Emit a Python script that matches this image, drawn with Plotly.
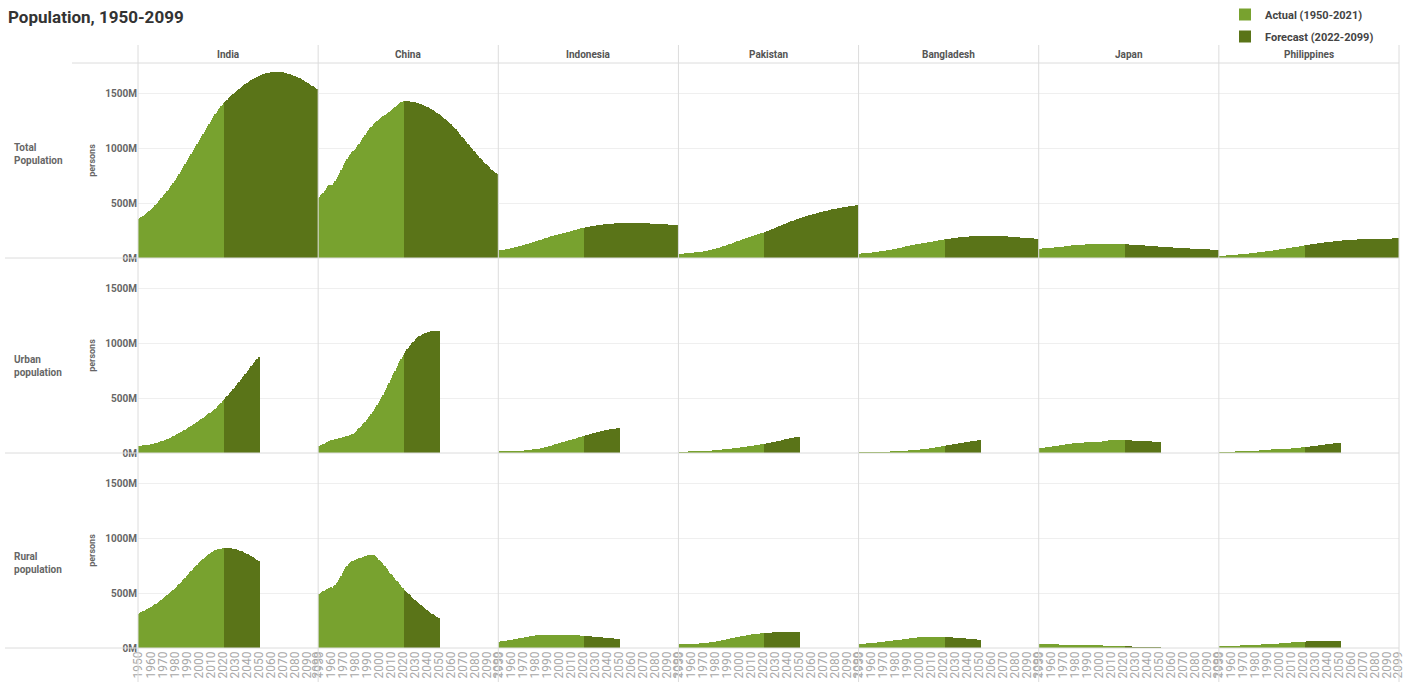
import plotly.graph_objects as go
from plotly.subplots import make_subplots

# ---------------------------------------------------------------- data (millions of persons)
countries = ["India", "China", "Indonesia", "Pakistan", "Bangladesh", "Japan", "Philippines"]
row_labels = ["Total<br>Population", "Urban<br>population", "Rural<br>population"]
years_total = list(range(1950, 2100))   # total population: 1950-2099
years_split = list(range(1950, 2051))   # urban / rural: 1950-2050
forecast_start = 2022
x_tick_years = [1950, 1960, 1970, 1980, 1990, 2000, 2010, 2020, 2030, 2040,
                2050, 2060, 2070, 2080, 2090, 2099]
y_tick_values = [0, 500, 1000, 1500]

india_total = [
    357, 363, 370, 377, 384, 392, 400, 408, 417, 426,
    436, 446, 457, 468, 479, 491, 503, 515, 528, 542,
    557, 569, 582, 595, 609, 623, 637, 652, 667, 682,
    697, 714, 731, 748, 765, 782, 799, 817, 835, 852,
    870, 889, 908, 927, 946, 964, 983, 1002, 1021, 1040,
    1059, 1077, 1095, 1113, 1131, 1149, 1167, 1185, 1203, 1222,
    1240, 1257, 1274, 1291, 1307, 1322, 1338, 1354, 1369, 1383, 1396, 1408,
    1417, 1429, 1441, 1452, 1463, 1474, 1484, 1495,
    1505, 1514, 1523, 1532, 1541, 1550, 1558, 1566, 1574, 1582,
    1590, 1597, 1604, 1611, 1618, 1625, 1631, 1637, 1643, 1649,
    1655, 1660, 1665, 1669, 1673, 1677, 1680, 1683, 1686, 1688,
    1690, 1692, 1693, 1694, 1695, 1695, 1695, 1694, 1693, 1692,
    1690, 1688, 1685, 1682, 1679, 1676, 1672, 1668, 1664, 1660,
    1655, 1650, 1645, 1640, 1634, 1628, 1622, 1616, 1610, 1604,
    1597, 1591, 1584, 1577, 1570, 1563, 1556, 1549, 1542, 1535,
]
china_total = [
    544, 557, 570, 583, 596, 609, 622, 636, 651, 664,
    667, 660, 666, 682, 699, 716, 735, 755, 776, 797,
    822, 845, 866, 887, 905, 922, 937, 950, 963, 975,
    982, 996, 1011, 1026, 1041, 1056, 1072, 1089, 1106, 1123,
    1140, 1155, 1168, 1181, 1193, 1205, 1216, 1227, 1237, 1247,
    1257, 1266, 1275, 1283, 1291, 1299, 1306, 1313, 1320, 1327,
    1337, 1346, 1355, 1364, 1373, 1382, 1391, 1400, 1408, 1416, 1424, 1426,
    1427, 1427, 1426, 1425, 1424, 1423, 1421, 1419,
    1417, 1414, 1411, 1408, 1404, 1400, 1396, 1391, 1386, 1381,
    1376, 1370, 1364, 1358, 1352, 1345, 1338, 1331, 1324, 1316,
    1308, 1300, 1292, 1283, 1274, 1265, 1256, 1247, 1238, 1228,
    1218, 1206, 1194, 1182, 1170, 1157, 1144, 1131, 1118, 1105,
    1092, 1079, 1066, 1053, 1040, 1027, 1014, 1001, 988, 975,
    962, 950, 938, 926, 914, 902, 890, 878, 867, 856,
    845, 834, 824, 814, 804, 795, 786, 778, 770, 763,
]
indonesia_total = [
    70, 71, 73, 74, 76, 77, 79, 81, 83, 86,
    88, 90, 93, 95, 98, 100, 103, 106, 109, 112,
    115, 118, 121, 124, 128, 131, 134, 138, 141, 145,
    148, 151, 155, 158, 162, 165, 168, 172, 175, 179,
    182, 185, 189, 192, 196, 199, 202, 205, 208, 211,
    214, 217, 220, 223, 226, 229, 232, 235, 238, 241,
    244, 247, 250, 253, 256, 259, 262, 264, 267, 269, 272, 274,
    276, 278, 281, 283, 285, 287, 289, 290,
    292, 294, 296, 297, 299, 300, 302, 303, 305, 306,
    308, 309, 310, 311, 312, 313, 314, 315, 316, 316,
    317, 317, 318, 318, 319, 319, 319, 320, 320, 320,
    320, 320, 320, 319, 319, 319, 319, 318, 318, 317,
    317, 317, 316, 316, 315, 315, 314, 314, 313, 312,
    312, 311, 311, 310, 309, 309, 308, 307, 307, 306,
    305, 304, 304, 303, 302, 301, 300, 299, 298, 297,
]
pakistan_total = [
    38, 38, 39, 40, 41, 42, 42, 43, 44, 45,
    46, 47, 48, 49, 51, 52, 53, 55, 56, 58,
    59, 62, 64, 66, 68, 70, 72, 74, 77, 79,
    81, 84, 87, 91, 94, 98, 101, 105, 108, 112,
    115, 119, 123, 127, 131, 135, 139, 143, 147, 151,
    154, 158, 162, 166, 170, 174, 178, 182, 186, 190,
    194, 198, 201, 204, 208, 211, 214, 217, 220, 224, 227, 231,
    235, 240, 244, 249, 253, 258, 262, 267,
    271, 276, 280, 285, 289, 294, 298, 303, 307, 312,
    316, 320, 325, 329, 333, 337, 341, 345, 349, 353,
    357, 361, 364, 368, 371, 375, 378, 381, 385, 388,
    391, 395, 398, 401, 404, 407, 410, 413, 416, 419,
    422, 425, 427, 430, 432, 435, 437, 440, 442, 444,
    446, 448, 450, 452, 454, 456, 458, 460, 462, 464,
    466, 468, 469, 471, 472, 474, 475, 477, 478, 480,
]
bangladesh_total = [
    40, 41, 42, 43, 44, 45, 46, 47, 48, 49,
    50, 51, 53, 54, 56, 57, 59, 60, 62, 63,
    64, 66, 67, 69, 71, 73, 75, 77, 79, 81,
    84, 86, 88, 91, 93, 95, 98, 100, 102, 105,
    107, 109, 112, 114, 116, 118, 120, 123, 125, 127,
    129, 131, 133, 135, 137, 139, 141, 143, 145, 146,
    148, 150, 152, 154, 156, 158, 160, 161, 163, 165, 167, 169,
    171, 173, 174, 176, 177, 179, 180, 182,
    183, 184, 186, 187, 188, 189, 190, 191, 192, 193,
    194, 195, 196, 197, 198, 198, 199, 200, 200, 201,
    201, 202, 202, 202, 203, 203, 203, 203, 203, 203,
    203, 202, 202, 202, 201, 201, 200, 200, 199, 198,
    198, 197, 196, 196, 195, 194, 193, 192, 192, 191,
    190, 189, 188, 187, 186, 186, 185, 184, 183, 182,
    181, 181, 180, 179, 178, 177, 177, 176, 175, 175,
]
japan_total = [
    84, 85, 86, 87, 88, 89, 90, 91, 92, 92,
    93, 94, 95, 96, 97, 98, 99, 100, 101, 103,
    104, 105, 107, 109, 110, 112, 113, 114, 115, 116,
    117, 118, 118, 119, 120, 121, 121, 122, 122, 123,
    124, 124, 124, 125, 125, 125, 126, 126, 126, 126,
    127, 127, 127, 127, 128, 128, 128, 128, 128, 128,
    128, 128, 128, 127, 127, 127, 127, 127, 126, 126, 125, 125,
    124, 123, 123, 122, 122, 121, 120, 120,
    119, 118, 118, 117, 116, 116, 115, 114, 113, 113,
    112, 111, 110, 109, 109, 108, 107, 106, 105, 104,
    104, 103, 102, 101, 100, 100, 99, 98, 97, 96,
    96, 95, 94, 94, 93, 92, 92, 91, 90, 90,
    89, 88, 88, 87, 87, 86, 85, 85, 84, 84,
    83, 83, 82, 82, 81, 81, 80, 80, 79, 79,
    78, 78, 77, 77, 76, 76, 75, 75, 74, 74,
]
philippines_total = [
    19, 19, 20, 21, 22, 22, 23, 24, 25, 25,
    26, 27, 28, 29, 30, 31, 32, 33, 34, 35,
    36, 37, 38, 39, 40, 42, 43, 44, 45, 47,
    48, 50, 51, 52, 54, 55, 56, 58, 59, 61,
    62, 64, 65, 67, 68, 70, 71, 73, 75, 76,
    78, 80, 81, 83, 84, 86, 87, 89, 91, 92,
    94, 96, 97, 99, 100, 102, 104, 106, 107, 109, 112, 114,
    116, 118, 119, 121, 123, 125, 127, 128,
    130, 132, 133, 135, 136, 138, 139, 141, 142, 144,
    145, 146, 148, 149, 150, 151, 153, 154, 155, 156,
    157, 158, 159, 160, 161, 162, 163, 163, 164, 165,
    166, 166, 167, 168, 168, 169, 169, 170, 170, 171,
    171, 172, 172, 172, 173, 173, 173, 174, 174, 174,
    175, 175, 175, 175, 176, 176, 176, 176, 176, 177,
    177, 177, 177, 177, 178, 178, 178, 178, 178, 178,
]

india_urban = [
    62, 64, 66, 67, 69, 71, 72, 74, 76, 77,
    79, 81, 84, 86, 89, 92, 95, 98, 102, 105,
    109, 113, 117, 121, 125, 130, 135, 141, 147, 153,
    159, 165, 171, 176, 182, 188, 194, 200, 207, 213,
    220, 227, 233, 240, 247, 254, 261, 268, 275, 283,
    290, 297, 305, 313, 320, 328, 336, 344, 352, 360,
    368, 377, 386, 395, 404, 414, 424, 435, 446, 458, 470, 482,
    494, 506, 518, 530, 542, 555, 568, 581,
    594, 607, 620, 634, 647, 661, 675, 688, 702, 716,
    731, 746, 760, 775, 789, 803, 817, 831, 845, 859,
    873,
]
china_urban = [
    62, 66, 71, 76, 81, 86, 92, 98, 104, 110,
    115, 118, 120, 122, 125, 128, 131, 134, 137, 140,
    143, 146, 149, 152, 155, 158, 162, 166, 171, 177,
    184, 194, 204, 214, 225, 236, 248, 260, 272, 285,
    298, 312, 326, 340, 355, 370, 386, 402, 418, 434,
    452, 472, 492, 512, 532, 553, 574, 596, 618, 640,
    662, 684, 706, 728, 750, 772, 794, 816, 838, 858, 877, 895,
    912, 928, 944, 959, 973, 987, 1000, 1012,
    1023, 1034, 1044, 1053, 1061, 1068, 1075, 1081, 1086, 1091,
    1095, 1099, 1102, 1105, 1107, 1109, 1111, 1112, 1113, 1114,
    1115,
]
indonesia_urban = [
    9, 10, 10, 11, 11, 12, 12, 13, 13, 14,
    14, 15, 15, 16, 17, 17, 18, 19, 20, 21,
    21, 22, 24, 25, 26, 27, 28, 29, 31, 32,
    33, 35, 37, 39, 41, 43, 45, 47, 50, 52,
    55, 58, 62, 65, 68, 72, 75, 79, 82, 86,
    89, 92, 95, 98, 101, 104, 107, 110, 113, 116,
    119, 122, 125, 128, 132, 135, 139, 142, 146, 149, 153, 156,
    159, 162, 165, 168, 171, 174, 177, 180,
    183, 186, 189, 192, 194, 197, 199, 202, 204, 206,
    208, 210, 212, 214, 216, 217, 219, 221, 222, 224,
    225,
]
pakistan_urban = [
    6, 7, 7, 7, 8, 8, 8, 9, 9, 10,
    10, 11, 11, 12, 12, 13, 13, 14, 14, 15,
    16, 16, 17, 18, 18, 19, 20, 21, 22, 23,
    24, 25, 26, 27, 28, 29, 30, 32, 33, 34,
    35, 37, 38, 39, 41, 42, 43, 45, 46, 48,
    49, 50, 52, 53, 55, 56, 57, 59, 60, 62,
    63, 65, 66, 68, 70, 71, 73, 75, 77, 78, 80, 82,
    84, 86, 88, 90, 92, 94, 96, 98,
    101, 103, 105, 108, 110, 113, 115, 118, 120, 123,
    125, 128, 130, 133, 135, 138, 140, 143, 145, 147,
    150,
]
bangladesh_urban = [
    2, 2, 2, 2, 2, 2, 2, 2, 2, 2,
    3, 3, 3, 3, 3, 4, 4, 4, 4, 5,
    5, 6, 7, 7, 8, 9, 10, 11, 11, 12,
    13, 14, 15, 15, 16, 17, 18, 19, 20, 21,
    22, 23, 24, 25, 25, 26, 27, 28, 29, 30,
    31, 32, 33, 35, 36, 37, 39, 40, 41, 43,
    44, 46, 47, 49, 51, 53, 55, 57, 59, 61, 63, 65,
    67, 69, 71, 73, 74, 76, 78, 80,
    82, 84, 86, 88, 90, 91, 93, 95, 97, 99,
    100, 102, 104, 105, 107, 108, 110, 111, 113, 114,
    115,
]
japan_urban = [
    44, 45, 47, 48, 50, 51, 53, 54, 56, 57,
    59, 60, 62, 63, 65, 66, 68, 70, 71, 73,
    75, 76, 78, 80, 81, 82, 84, 85, 87, 88,
    90, 90, 91, 92, 93, 93, 94, 95, 96, 96,
    97, 97, 98, 98, 98, 98, 99, 99, 99, 100,
    100, 102, 104, 106, 108, 110, 112, 113, 114, 115,
    116, 116, 117, 117, 117, 117, 117, 116, 116, 116, 116, 115,
    115, 115, 114, 114, 114, 113, 113, 112,
    112, 111, 111, 110, 110, 109, 109, 108, 108, 107,
    107, 106, 106, 105, 104, 104, 103, 103, 102, 101,
    101,
]
philippines_urban = [
    6, 6, 6, 7, 7, 7, 7, 8, 8, 8,
    8, 9, 9, 9, 10, 10, 10, 11, 11, 11,
    12, 12, 13, 13, 14, 15, 15, 16, 17, 17,
    18, 19, 20, 21, 23, 24, 25, 26, 27, 28,
    30, 30, 31, 31, 32, 33, 33, 34, 34, 35,
    36, 36, 37, 37, 38, 39, 39, 40, 41, 41,
    42, 43, 44, 45, 46, 47, 48, 49, 50, 51, 52, 53,
    55, 56, 57, 58, 60, 61, 62, 64,
    65, 66, 68, 69, 71, 72, 74, 75, 77, 78,
    80, 81, 83, 84, 86, 87, 89, 90, 92, 93,
    95,
]

india_rural = [
    314, 319, 324, 330, 335, 341, 347, 352, 358, 364,
    370, 376, 383, 390, 397, 404, 412, 420, 429, 437,
    446, 454, 463, 472, 481, 490, 499, 509, 518, 528,
    537, 548, 559, 571, 582, 594, 605, 617, 629, 641,
    653, 665, 677, 689, 701, 713, 724, 736, 747, 759,
    770, 780, 790, 800, 810, 819, 828, 838, 847, 856,
    865, 871, 877, 882, 888, 893, 897, 900, 903, 905, 907, 908,
    909, 909, 909, 908, 907, 906, 904, 902,
    900, 897, 894, 891, 887, 883, 879, 874, 869, 864,
    859, 853, 847, 841, 834, 827, 820, 812, 805, 797,
    789,
]
china_rural = [
    489, 495, 500, 507, 515, 522, 528, 533, 540, 545,
    552, 542, 546, 560, 574, 588, 604, 621, 639, 657,
    679, 699, 717, 735, 750, 764, 775, 784, 790, 793,
    798, 801, 806, 811, 815, 817, 821, 826, 832, 838,
    842, 845, 846, 847, 847, 846, 843, 838, 831, 822,
    805, 794, 783, 771, 759, 746, 732, 717, 702, 687,
    676, 662, 649, 636, 623, 610, 597, 584, 571, 558, 547, 531,
    520, 509, 499, 488, 478, 467, 457, 447,
    437, 427, 417, 408, 398, 389, 380, 371, 362, 353,
    345, 337, 329, 321, 314, 306, 299, 292, 285, 278,
    272,
]
indonesia_rural = [
    58, 59, 61, 62, 64, 65, 67, 68, 70, 72,
    73, 75, 77, 79, 81, 83, 85, 87, 89, 91,
    93, 95, 97, 99, 101, 103, 105, 107, 109, 111,
    113, 114, 115, 116, 117, 118, 119, 120, 121, 121,
    122, 122, 122, 122, 122, 122, 122, 121, 121, 121,
    120, 120, 120, 119, 119, 119, 118, 118, 118, 117,
    117, 117, 116, 116, 115, 115, 114, 114, 113, 113, 112, 111,
    110, 109, 108, 107, 106, 105, 104, 103,
    102, 101, 100, 99, 98, 97, 96, 95, 94, 93,
    92, 91, 90, 89, 88, 87, 86, 85, 84, 83,
    82,
]
pakistan_rural = [
    31, 32, 32, 33, 33, 34, 34, 35, 35, 36,
    36, 37, 37, 38, 39, 39, 40, 41, 42, 43,
    44, 45, 46, 48, 49, 50, 52, 53, 55, 56,
    57, 59, 61, 63, 65, 67, 69, 71, 73, 76,
    78, 80, 83, 85, 87, 90, 92, 94, 97, 99,
    101, 103, 105, 107, 109, 111, 113, 115, 117, 119,
    121, 123, 124, 126, 127, 129, 130, 131, 132, 134, 135, 136,
    137, 138, 139, 140, 140, 141, 141, 142,
    142, 143, 143, 143, 144, 144, 144, 144, 144, 144,
    144, 144, 144, 144, 144, 143, 143, 143, 143, 142,
    142,
]
bangladesh_rural = [
    36, 37, 38, 39, 40, 41, 42, 43, 44, 45,
    46, 47, 48, 49, 50, 52, 53, 54, 55, 56,
    58, 59, 60, 61, 62, 64, 65, 66, 68, 69,
    70, 72, 73, 74, 76, 77, 78, 80, 81, 82,
    84, 85, 87, 88, 89, 91, 92, 93, 95, 96,
    97, 98, 99, 100, 101, 101, 102, 102, 103, 103,
    103, 103, 103, 103, 103, 102, 102, 102, 101, 101, 100, 99,
    99, 98, 98, 97, 96, 96, 95, 94,
    94, 93, 92, 91, 90, 89, 89, 88, 87, 86,
    85, 84, 83, 82, 81, 80, 79, 78, 77, 76,
    75,
]
japan_rural = [
    40, 39, 39, 38, 38, 37, 37, 36, 35, 35,
    34, 34, 33, 33, 32, 32, 31, 31, 30, 30,
    30, 29, 29, 29, 28, 28, 28, 28, 27, 27,
    27, 27, 27, 27, 27, 27, 27, 27, 27, 27,
    27, 27, 27, 27, 27, 27, 27, 27, 27, 27,
    27, 25, 23, 21, 19, 18, 16, 15, 13, 12,
    12, 12, 11, 11, 11, 11, 11, 11, 11, 11, 11, 10,
    10, 10, 10, 10, 10, 9, 9, 9,
    9, 9, 9, 9, 8, 8, 8, 8, 8, 8,
    8, 7, 7, 7, 7, 7, 7, 6, 6, 6,
    6,
]
philippines_rural = [
    13, 13, 14, 14, 15, 15, 16, 16, 17, 17,
    18, 18, 19, 19, 20, 21, 21, 22, 23, 23,
    24, 25, 25, 26, 26, 27, 28, 28, 29, 30,
    31, 31, 31, 31, 31, 32, 32, 32, 32, 32,
    32, 33, 34, 35, 36, 37, 38, 39, 40, 41,
    42, 43, 44, 45, 46, 46, 47, 48, 49, 50,
    51, 52, 52, 53, 54, 55, 55, 56, 57, 57, 58, 59,
    59, 60, 60, 61, 61, 62, 62, 62,
    63, 63, 63, 63, 64, 64, 64, 64, 64, 64,
    64, 64, 64, 64, 64, 64, 63, 63, 63, 63,
    63,
]

total_rows = [india_total, china_total, indonesia_total, pakistan_total,
              bangladesh_total, japan_total, philippines_total]
urban_rows = [india_urban, china_urban, indonesia_urban, pakistan_urban,
              bangladesh_urban, japan_urban, philippines_urban]
rural_rows = [india_rural, china_rural, indonesia_rural, pakistan_rural,
              bangladesh_rural, japan_rural, philippines_rural]
grid = [(total_rows, years_total), (urban_rows, years_split), (rural_rows, years_split)]

# ---------------------------------------------------------------- styling
ACTUAL = "#78a22f"
FORECAST = "#5a7418"
SEP = "#dcdcdc"
GRID = "#efefef"
FONT = "Roboto"

W, H = 1405, 682
L, R, T, B = 138, 6, 63, 34
PW, PH = W - L - R, H - T - B


def px_x(x):
    return (x - L) / PW


def px_y(y):
    return (H - B - y) / PH


fig = make_subplots(rows=3, cols=7, shared_xaxes=True, shared_yaxes=True,
                    horizontal_spacing=0, vertical_spacing=0)

for r, (rows, yrs) in enumerate(grid):
    for c, vals in enumerate(rows):
        assert len(vals) == len(yrs)
        ax = [y for y in yrs if y < forecast_start]
        fx = [y for y in yrs if y >= forecast_start]
        first = r == 0 and c == 0
        fig.add_trace(go.Bar(x=ax, y=vals[:len(ax)], marker_color=ACTUAL,
                             marker_line_width=0, name="Actual (1950-2021)",
                             legendgroup="actual", showlegend=first),
                      row=r + 1, col=c + 1)
        fig.add_trace(go.Bar(x=fx, y=vals[len(ax):], marker_color=FORECAST,
                             marker_line_width=0, name="Forecast (2022-2099)",
                             legendgroup="forecast", showlegend=first),
                      row=r + 1, col=c + 1)

fig.update_xaxes(range=[1949.5, 2099.5], tickmode="array", tickvals=x_tick_years,
                 ticktext=[str(v) for v in x_tick_years], tickangle=-90,
                 tickfont=dict(family=FONT, size=12, color="#a8a8a8"),
                 ticklabeloverflow="allow",
                 showgrid=False, zeroline=False, showline=False, ticks="",
                 automargin=False)
fig.update_yaxes(range=[0, 1775], tickmode="array", tickvals=y_tick_values,
                 ticktext=[f"{v}M" for v in y_tick_values],
                 tickfont=dict(family=FONT, size=10, color="#666666", weight="bold"),
                 showgrid=True, gridcolor=GRID, gridwidth=1, zeroline=False,
                 showline=False, ticks="", automargin=False)
for r in range(3):
    fig.update_yaxes(title_text="persons", title_standoff=8,
                     title_font=dict(family=FONT, size=9, color="#666666", weight="bold"),
                     row=r + 1, col=1)

shapes = []
col_w = PW / 7
for k in range(8):
    xp = px_x(L + k * col_w)
    shapes.append(dict(type="line", xref="paper", yref="paper", x0=xp, x1=xp,
                       y0=px_y(H), y1=px_y(45), line=dict(color=SEP, width=1)))
for yb in (T + PH / 3, T + 2 * PH / 3, T + PH):
    shapes.append(dict(type="line", xref="paper", yref="paper", x0=px_x(5), x1=1,
                       y0=px_y(yb), y1=px_y(yb), line=dict(color=SEP, width=1)))
shapes.append(dict(type="line", xref="paper", yref="paper", x0=px_x(72), x1=1,
                   y0=1, y1=1, line=dict(color=SEP, width=1)))

annotations = []
for c, name in enumerate(countries):
    annotations.append(dict(text=name, xref="paper", yref="paper",
                            x=px_x(L + (c + 0.5) * col_w), y=px_y(54),
                            showarrow=False, xanchor="center", yanchor="middle",
                            font=dict(family=FONT, size=10, color="#555555", weight="bold")))
for text, yc in zip(row_labels, (154, 366, 563)):
    annotations.append(dict(text=text, xref="paper", yref="paper", x=px_x(12), y=px_y(yc),
                            showarrow=False, xanchor="left", yanchor="middle", align="left",
                            font=dict(family=FONT, size=10, color="#666666", weight="bold")))

fig.update_layout(
    width=W, height=H,
    margin=dict(l=L, r=R, t=T, b=B, autoexpand=False),
    paper_bgcolor="white", plot_bgcolor="white",
    barmode="stack", bargap=0.15,
    title=dict(text="Population, 1950-2099", xref="container", yref="container",
               x=8 / W, y=1 - 17 / H, xanchor="left", yanchor="middle",
               font=dict(family=FONT, size=17, color="#333333", weight="bold")),
    legend=dict(xref="container", yref="container", x=1225 / W, y=1,
                xanchor="left", yanchor="top", orientation="v", traceorder="grouped",
                tracegroupgap=3, bgcolor="rgba(0,0,0,0)",
                font=dict(family=FONT, size=11, color="#444444", weight="bold")),
    shapes=shapes, annotations=annotations,
    font=dict(family=FONT),
)

fig.write_html("out.html")
